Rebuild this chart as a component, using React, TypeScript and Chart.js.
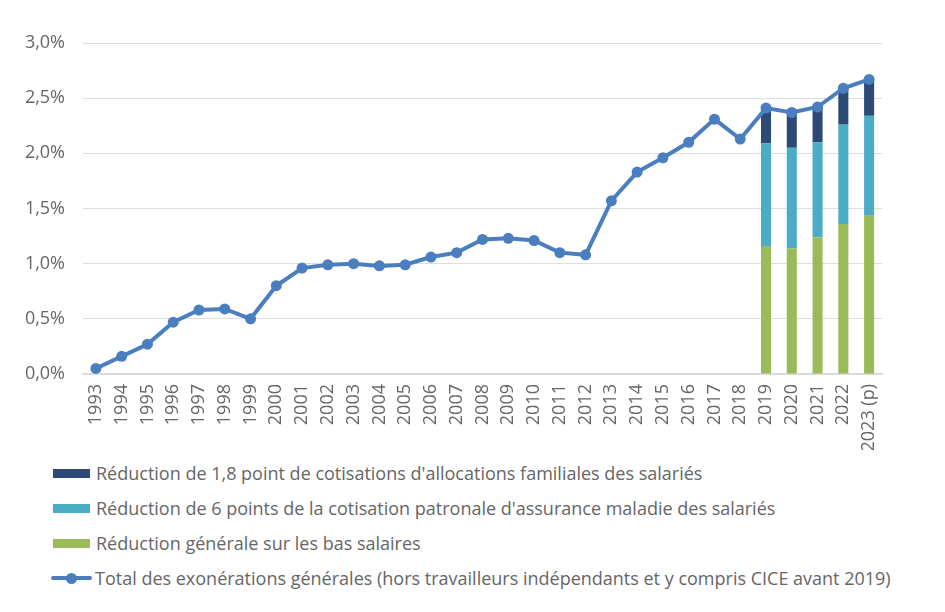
import React, { useEffect, useRef } from 'react';
import { Chart, registerables } from 'chart.js';

Chart.register(...registerables);

const years = [
    '1993', '1994', '1995', '1996', '1997', '1998', '1999', '2000', '2001', '2002',
    '2003', '2004', '2005', '2006', '2007', '2008', '2009', '2010', '2011', '2012',
    '2013', '2014', '2015', '2016', '2017', '2018', '2019', '2020', '2021', '2022',
    '2023 (p)',
];

// total des exonérations générales, en % de la masse salariale
const totalExo = [
    0.05, 0.16, 0.27, 0.47, 0.58, 0.59, 0.50, 0.80, 0.96, 0.99,
    1.00, 0.98, 0.99, 1.06, 1.10, 1.22, 1.23, 1.21, 1.10, 1.08,
    1.57, 1.83, 1.96, 2.10, 2.31, 2.13, 2.41, 2.37, 2.42, 2.59,
    2.67,
];

const pad = Array(26).fill(null);
const reductionGenerale = [...pad, 1.16, 1.14, 1.24, 1.36, 1.44];
const reductionMaladie = [...pad, 0.93, 0.91, 0.86, 0.90, 0.90];
const reductionFamille = [...pad, 0.32, 0.32, 0.32, 0.33, 0.33];

const labelFamille = "Réduction de 1,8 point de cotisations d'allocations familiales des salariés";
const labelMaladie = "Réduction de 6 points de la cotisation patronale d'assurance maladie des salariés";
const labelGenerale = 'Réduction générale sur les bas salaires';
const labelTotal = 'Total des exonérations générales (hors travailleurs indépendants et y compris CICE avant 2019)';

const NAVY = '#2c4a75';
const TEAL = '#4bacc6';
const GREEN = '#9bbb59';
const BLUE = '#4a7ebf';
const TEXT = '#666666';
const FONT = '"Open Sans", sans-serif';

const App: React.FC = () => {
    const canvasRef = useRef<HTMLCanvasElement | null>(null);

    useEffect(() => {
        if (!canvasRef.current) return;
        const chart = new Chart(canvasRef.current, {
            type: 'bar',
            data: {
                labels: years,
                datasets: [
                    {
                        type: 'line',
                        label: labelTotal,
                        data: totalExo,
                        borderColor: BLUE,
                        backgroundColor: BLUE,
                        borderWidth: 4,
                        pointRadius: 5.5,
                        pointBackgroundColor: BLUE,
                        pointBorderWidth: 0,
                        stack: 'total',
                        order: 0,
                    },
                    {
                        label: labelGenerale,
                        data: reductionGenerale,
                        backgroundColor: GREEN,
                        stack: 'bars',
                        order: 1,
                    },
                    {
                        label: labelMaladie,
                        data: reductionMaladie,
                        backgroundColor: TEAL,
                        stack: 'bars',
                        order: 1,
                    },
                    {
                        label: labelFamille,
                        data: reductionFamille,
                        backgroundColor: NAVY,
                        stack: 'bars',
                        order: 1,
                    },
                ] as any,
            },
            options: {
                animation: false,
                responsive: false,
                maintainAspectRatio: false,
                layout: { padding: { top: 43, right: 63, left: 0, bottom: 0 } },
                datasets: {
                    bar: { barPercentage: 0.39, categoryPercentage: 1 },
                } as any,
                plugins: {
                    legend: { display: false },
                    tooltip: { enabled: false },
                },
                scales: {
                    x: {
                        stacked: true,
                        grid: { display: false, drawTicks: false },
                        border: { color: '#d9d9d9', width: 1.5 },
                        ticks: {
                            color: TEXT,
                            font: { family: FONT, size: 18 },
                            minRotation: 90,
                            maxRotation: 90,
                            autoSkip: false,
                            padding: 10,
                        },
                        afterFit: (scale: any) => {
                            scale.height = 76;
                        },
                    },
                    y: {
                        stacked: true,
                        min: 0,
                        max: 3,
                        grid: { color: '#dddddd', lineWidth: 1, drawTicks: false },
                        border: { display: false },
                        ticks: {
                            stepSize: 0.5,
                            color: TEXT,
                            font: { family: FONT, size: 18 },
                            padding: 18,
                            callback: (v: any) => Number(v).toFixed(1).replace('.', ',') + '%',
                        },
                        afterFit: (scale: any) => {
                            scale.width = 83;
                        },
                    },
                },
            },
        });
        return () => chart.destroy();
    }, []);

    const rows = [
        { label: labelFamille, color: NAVY, line: false },
        { label: labelMaladie, color: TEAL, line: false },
        { label: labelGenerale, color: GREEN, line: false },
        { label: labelTotal, color: BLUE, line: true },
    ];

    return (
        <div style={{ position: 'absolute', left: 0, top: 0, width: 945, height: 612, background: '#fff' }}>
            <canvas ref={canvasRef} width={945} height={450} style={{ width: 945, height: 450, display: 'block' }} />
            {rows.map((r, i) => (
                <div
                    key={r.label}
                    style={{
                        position: 'absolute',
                        left: 53,
                        top: 473 + i * 35 - 12,
                        height: 24,
                        display: 'flex',
                        alignItems: 'center',
                        fontFamily: FONT,
                        fontSize: 18,
                        color: TEXT,
                        whiteSpace: 'nowrap',
                    }}
                >
                    {r.line ? (
                        <span style={{ position: 'relative', width: 41, height: 11, marginLeft: -2, marginRight: 3 }}>
                            <span style={{ position: 'absolute', left: 0, right: 0, top: 3.5, height: 4, background: r.color, borderRadius: 2 }} />
                            <span style={{ position: 'absolute', left: 15, top: 0, width: 11, height: 11, borderRadius: 6, background: r.color }} />
                        </span>
                    ) : (
                        <span style={{ width: 37, height: 9, background: r.color, marginRight: 6 }} />
                    )}
                    <span>{r.label}</span>
                </div>
            ))}
        </div>
    );
};

export default App;
